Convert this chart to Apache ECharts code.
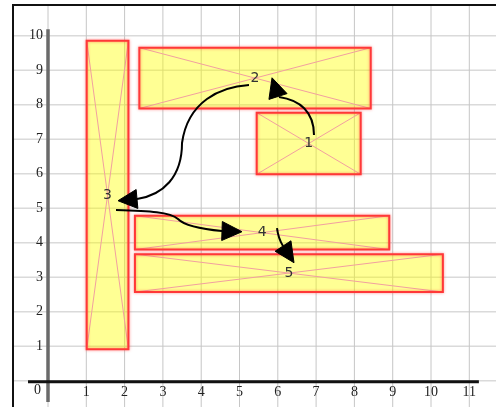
<!DOCTYPE html>
<html>
<head>
<meta charset="utf-8">
<script src="https://cdn.jsdelivr.net/npm/echarts@6/dist/echarts.min.js"></script>
<style>html,body{margin:0;padding:0;background:#fff}#c{width:496px;height:407px}</style>
</head>
<body>
<div id="c"></div>
<script>
// ---- data ----
const xTicks = [0,1,2,3,4,5,6,7,8,9,10,11];
const yTicks = [0,1,2,3,4,5,6,7,8,9,10];
const boxLabels = ['1','2','3','4','5'];
// [x0, y0, x1, y1]
const boxes = [
  [5.449, 5.983, 8.164, 7.768],
  [2.385, 7.890, 8.426, 9.652],
  [1.010, 0.910, 2.100, 9.855],
  [2.270, 3.800, 8.910, 4.783],
  [2.270, 2.571, 10.31, 3.668]
];
// arrow paths: start, then cubic segments (c1, c2, end)
const arrowPaths = [
  [[6.945,7.122],[6.945,7.788],[6.58,8.136],[6.031,8.223]],
  [[5.248,8.571],[4.50,8.52],[3.65,8.10],[3.499,6.890],[3.499,5.904],[3.003,5.383],[2.324,5.267]],
  [[1.775,4.948],[2.663,4.919],[3.185,4.890],[3.394,4.687],[3.577,4.484],[3.969,4.397],[4.543,4.339]],
  [[5.979,4.426],[6.005,4.194],[6.057,4.049],[6.136,3.904]]
];
// arrow heads: [base centre, tip]
const arrowHeads = [
  [[6.005,8.238],[5.849,8.780]],
  [[2.324,5.267],[1.828,5.217]],
  [[4.543,4.339],[5.065,4.319]],
  [[6.136,3.904],[6.423,3.420]]
];

const X_MIN = -0.914, X_MAX = 11.697, Y_MIN = -0.762, Y_MAX = 10.890;
const serif = '"Liberation Serif", "DejaVu Serif", serif';

const chart = echarts.init(document.getElementById('c'), null, {renderer:'canvas'});

const option = {
  animation: false,
  backgroundColor: '#fff',
  grid: {left: 13, top: 5, right: 0, bottom: 0, show: false},
  xAxis: {type: 'value', min: X_MIN, max: X_MAX, show: false},
  yAxis: {type: 'value', min: Y_MIN, max: Y_MAX, show: false},
  graphic: [
    {type: 'line', z: 100, shape: {x1: 12, y1: 5, x2: 496, y2: 5}, style: {stroke: '#111', lineWidth: 2}},
    {type: 'line', z: 100, shape: {x1: 13, y1: 4, x2: 13, y2: 407}, style: {stroke: '#111', lineWidth: 2}}
  ],
  series: [
    { // horizontal grid lines
      type: 'custom', z: 1, silent: true,
      data: yTicks.map(v => [X_MIN, v]),
      renderItem: (params, api) => {
        const y = api.value(1);
        const a = api.coord([X_MIN, y]), b = api.coord([X_MAX, y]);
        return {type: 'line', shape: {x1: a[0], y1: a[1], x2: b[0], y2: b[1]}, style: {stroke: '#dadada', lineWidth: 1.5}};
      }
    },
    { // vertical grid lines
      type: 'custom', z: 1, silent: true,
      data: xTicks.map(v => [v, Y_MIN]),
      renderItem: (params, api) => {
        const x = api.value(0);
        const a = api.coord([x, Y_MAX]), b = api.coord([x, Y_MIN]);
        return {type: 'line', shape: {x1: a[0], y1: a[1], x2: b[0], y2: b[1]}, style: {stroke: '#c6c6c6', lineWidth: 1}};
      }
    },
    { // boxes
      type: 'custom', z: 3, silent: true,
      data: boxes.map((b, i) => [b[0], b[1], b[2], b[3], i]),
      renderItem: (params, api) => {
        const p0 = api.coord([api.value(0), api.value(3)]);
        const p1 = api.coord([api.value(2), api.value(1)]);
        const x = p0[0], y = p0[1], w = p1[0] - p0[0], h = p1[1] - p0[1];
        const i = api.value(4);
        return {type: 'group', children: [
          {type: 'rect', shape: {x, y, width: w, height: h}, style: {fill: 'rgba(255,255,0,0.42)', stroke: null}},
          {type: 'line', shape: {x1: x, y1: y, x2: x + w, y2: y + h}, style: {stroke: '#f2a0a0', lineWidth: 1}},
          {type: 'line', shape: {x1: x, y1: y + h, x2: x + w, y2: y}, style: {stroke: '#f2a0a0', lineWidth: 1}},
          {type: 'rect', shape: {x, y, width: w, height: h}, style: {fill: null, stroke: '#ff3838', lineWidth: 2, shadowBlur: 3, shadowColor: 'rgba(255,60,60,0.6)'}},
          {type: 'text', x: x + w / 2, y: y + h / 2, style: {text: boxLabels[i], fill: '#333', font: '14px "DejaVu Sans", sans-serif', align: 'center', verticalAlign: 'middle'}}
        ]};
      }
    },
    { // axis lines
      type: 'custom', z: 4, silent: true,
      data: [[0, 0]],
      renderItem: (params, api) => {
        const xa = api.coord([-0.522, 0]), xb = api.coord([11.25, 0]);
        const ya = api.coord([0, 10.19]), yb = api.coord([0, -0.62]);
        return {type: 'group', children: [
          {type: 'line', shape: {x1: ya[0], y1: ya[1], x2: yb[0], y2: yb[1]}, style: {stroke: '#6a6a6a', lineWidth: 3.5}},
          {type: 'line', shape: {x1: xa[0], y1: xa[1] + 1, x2: xb[0], y2: xb[1] + 1}, style: {stroke: '#111', lineWidth: 3}}
        ]};
      }
    },
    { // x tick labels
      type: 'custom', z: 5, silent: true,
      data: xTicks.map(v => [v, 0]),
      renderItem: (params, api) => {
        const v = api.value(0);
        const p = api.coord([v, 0]);
        const isZero = v === 0;
        return {type: 'text', x: p[0] + (isZero ? -10.5 : 0), y: p[1] + (isZero ? 9.5 : 11.5),
          style: {text: String(v), fill: '#222', font: '14px ' + serif, align: 'center', verticalAlign: 'middle'}};
      }
    },
    { // y tick labels
      type: 'custom', z: 5, silent: true,
      data: yTicks.filter(v => v > 0).map(v => [0, v]),
      renderItem: (params, api) => {
        const v = api.value(1);
        const p = api.coord([0, v]);
        return {type: 'text', x: p[0] - 5, y: p[1],
          style: {text: String(v), fill: '#222', font: '14px ' + serif, align: 'right', verticalAlign: 'middle'}};
      }
    },
    { // arrows
      type: 'custom', z: 6, silent: true,
      data: arrowPaths.map((a, i) => [a[0][0], a[0][1], i]),
      renderItem: (params, api) => {
        const i = api.value(2);
        const pts = arrowPaths[i].map(p => api.coord(p));
        let d = 'M' + pts[0][0] + ' ' + pts[0][1];
        for (let k = 1; k + 2 < pts.length; k += 3) {
          d += ' C' + pts[k][0] + ' ' + pts[k][1] + ' ' + pts[k+1][0] + ' ' + pts[k+1][1] + ' ' + pts[k+2][0] + ' ' + pts[k+2][1];
        }
        const B = api.coord(arrowHeads[i][0]), T = api.coord(arrowHeads[i][1]);
        let dx = T[0] - B[0], dy = T[1] - B[1];
        const L = Math.hypot(dx, dy); dx /= L; dy /= L;
        const hw = 9.5;
        const v1 = [B[0] - dy * hw, B[1] + dx * hw], v2 = [B[0] + dy * hw, B[1] - dx * hw];
        return {type: 'group', children: [
          {type: 'path', shape: {pathData: d}, style: {fill: null, stroke: '#000', lineWidth: 2}},
          {type: 'polygon', shape: {points: [T, v1, v2]}, style: {fill: '#000', stroke: '#000', lineWidth: 1}}
        ]};
      }
    }
  ]
};
chart.setOption(option);
</script>
</body>
</html>
